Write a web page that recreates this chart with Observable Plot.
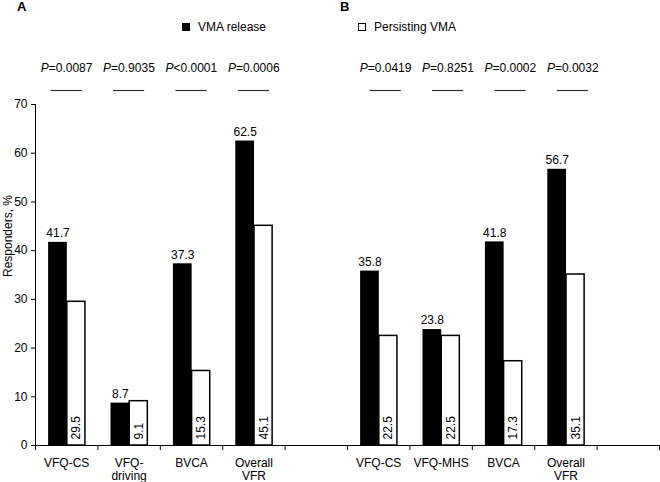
<!DOCTYPE html>
<html>
<head>
<meta charset="utf-8">
<script src="https://cdn.jsdelivr.net/npm/d3@7"></script>
<script src="https://cdn.jsdelivr.net/npm/@observablehq/plot@0.6"></script>
<style>
  body { margin: 0; background: white; }
  #wrap { position: relative; width: 660px; height: 482px; font-family: "Liberation Sans", Arial, sans-serif; font-size: 12px; color: #000; }
  .abs { position: absolute; white-space: nowrap; line-height: 14px; }
  .panel { font-weight: bold; font-size: 13px; }
  .sq { position: absolute; width: 8px; height: 8px; box-sizing: border-box; }
</style>
</head>
<body>
<div id="wrap">
  <div class="abs panel" style="left:17px; top:0px;">A</div>
  <div class="abs panel" style="left:340px; top:0px;">B</div>
  <div class="sq" style="left:182px; top:23px; background:#000;"></div>
  <div class="abs" style="left:198px; top:20px;">VMA release</div>
  <div class="sq" style="left:358px; top:23px; background:#fff; border:1.5px solid #000;"></div>
  <div class="abs" style="left:374px; top:20px;">Persisting VMA</div>
</div>
<script>
// ---- Data ----
const categoriesA = ["VFQ-CS", "VFQ-\ndriving", "BVCA", "Overall\nVFR"];
const releaseA    = [41.7, 8.7, 37.3, 62.5];
const persistA    = [29.5, 9.1, 15.3, 45.1];
const pValuesA    = ["=0.0087", "=0.9035", "<0.0001", "=0.0006"];

const categoriesB = ["VFQ-CS", "VFQ-MHS", "BVCA", "Overall\nVFR"];
const releaseB    = [35.8, 23.8, 41.8, 56.7];
const persistB    = [22.5, 22.5, 17.3, 35.1];
const pValuesB    = ["=0.0419", "=0.8251", "=0.0002", "=0.0032"];

const yTicks = [0, 10, 20, 30, 40, 50, 60, 70];
const slotCount = 10;

// ---- Table built from the arrays ----
const rowsA = categoriesA.map((c, k) => ({group: "A", slot: k, label: c, release: releaseA[k], persist: persistA[k], p: pValuesA[k]}));
const rowsB = categoriesB.map((c, k) => ({group: "B", slot: 5 + k, label: c, release: releaseB[k], persist: persistB[k], p: pValuesB[k]}));
const rows = rowsA.concat(rowsB);

function pMarks(data, shift) {
  return [
    Plot.text(data, {x: d => d.slot + 0.5, y: 70, text: () => "P", fontStyle: "italic", textAnchor: "end", dx: -18 + shift, dy: -36}),
    Plot.text(data, {x: d => d.slot + 0.5, y: 70, text: "p", textAnchor: "start", dx: -18 + shift, dy: -36}),
    Plot.ruleY(data, {x1: d => d.slot + 0.25, x2: d => d.slot + 0.75, y: 70, dy: -14, dx: shift, stroke: "#333", strokeWidth: 1.2})
  ];
}

const chart = Plot.plot({
  width: 660,
  height: 482,
  marginLeft: 35,
  marginRight: 1,
  marginTop: 104,
  marginBottom: 37,
  x: {domain: [0, slotCount], axis: null},
  y: {domain: [0, 70], axis: null},
  style: {fontFamily: "'Liberation Sans', Arial, sans-serif", fontSize: "12px", background: "transparent", color: "#000"},
  marks: [
    Plot.rectY(rows, {x1: d => d.slot + 0.21, x2: d => d.slot + 0.51, y: "release", fill: "#000"}),
    Plot.rectY(rows, {x1: d => d.slot + 0.51, x2: d => d.slot + 0.80, y: "persist", fill: "#fff", stroke: "#000", strokeWidth: 1.5}),
    Plot.ruleY([0], {stroke: "#000"}),
    Plot.ruleX([0], {y1: 0, y2: 70, stroke: "#000"}),
    Plot.axisY(yTicks, {tickSize: 4, tickPadding: 4, label: null, fontSize: 12}),
    Plot.axisX(d3.range(slotCount + 1), {tickSize: 5, tickFormat: () => "", label: null}),
    Plot.text(rows, {x: d => d.slot + 0.36, y: "release", text: d => d.release.toFixed(1), dy: -9}),
    Plot.text(rows, {x: d => d.slot + 0.657, y: 0, text: d => d.persist.toFixed(1), rotate: -90, textAnchor: "start", dy: -6}),
    Plot.text(rows, {x: d => d.slot + 0.5, y: 0, text: "label", dy: 12, lineAnchor: "top", lineHeight: 1.08}),
    Plot.text(["Responders, %"], {frameAnchor: "left", rotate: -90, dx: -27, dy: 2, text: d => d}),
    ...pMarks(rowsA, 0),
    ...pMarks(rowsB, 7)
  ]
});
chart.style.position = "absolute";
chart.style.left = "0px";
chart.style.top = "0px";
document.getElementById("wrap").prepend(chart);
</script>
</body>
</html>
